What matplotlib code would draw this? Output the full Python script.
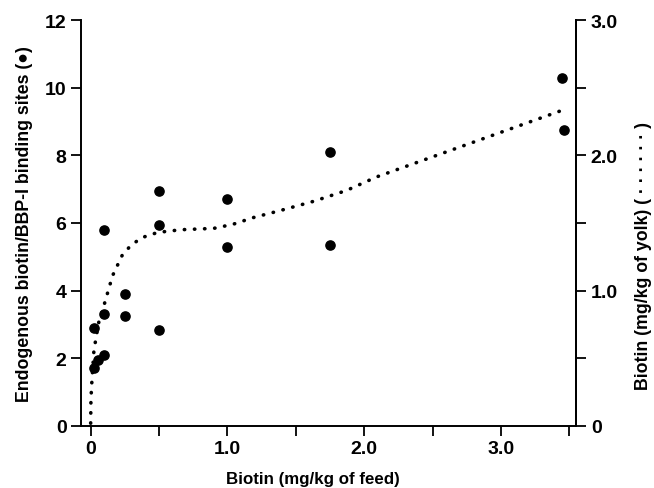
import numpy as np
import matplotlib.pyplot as plt
from matplotlib.ticker import MultipleLocator, FixedLocator, FixedFormatter

plt.rcParams["font.family"] = ["Liberation Sans", "DejaVu Sans"]

# binding sites per dose (left axis)
dose = [0.025, 0.025, 0.05, 0.1, 0.1, 0.1, 0.25, 0.25, 0.5, 0.5, 0.5,
        1.0, 1.0, 1.75, 1.75, 3.45, 3.46]
sites = [1.7, 2.9, 1.95, 2.1, 5.8, 3.3, 3.9, 3.25, 6.95, 5.95, 2.85,
         6.7, 5.3, 8.1, 5.35, 10.3, 8.75]

# yolk biotin curve (right axis)
curve_x = [0.0, 0.002, 0.01, 0.024, 0.046, 0.06, 0.097, 0.16, 0.23, 0.29,
           0.37, 0.49, 0.66, 0.90, 1.04, 1.19, 1.38, 1.63, 1.87, 2.09, 3.44]
curve_y = [0.02, 0.20, 0.35, 0.56, 0.69, 0.77, 0.89, 1.11, 1.26, 1.33,
           1.39, 1.43, 1.45, 1.46, 1.49, 1.54, 1.59, 1.66, 1.74, 1.84, 2.33]

fig = plt.figure(figsize=(6.54, 4.89), dpi=100)
ax = fig.add_axes([0.124, 0.127, 0.757, 0.83])
ax2 = ax.twinx()

ax.scatter(dose, sites, s=44, color="black", zorder=3)
ax2.plot(curve_x, curve_y, color="black", lw=2.6,
         linestyle=(0, (0.1, 2.7)), dash_capstyle="round")

ax.set_xlim(-0.07, 3.55)
ax.set_ylim(0, 12)
ax2.set_ylim(0, 3.0)

for a in (ax, ax2):
    a.spines["top"].set_visible(False)
    a.spines["left"].set_linewidth(1.4)
    a.spines["right"].set_linewidth(1.4)
    a.spines["bottom"].set_linewidth(1.4)
ax2.spines["left"].set_visible(False)
ax2.spines["bottom"].set_visible(False)

ax.xaxis.set_major_locator(FixedLocator([0, 1, 2, 3]))
ax.xaxis.set_major_formatter(FixedFormatter(["0", "1.0", "2.0", "3.0"]))
ax.xaxis.set_minor_locator(FixedLocator([0.5, 1.5, 2.5, 3.5]))
ax.yaxis.set_major_locator(MultipleLocator(2))
ax2.yaxis.set_major_locator(FixedLocator([0, 1, 2, 3]))
ax2.yaxis.set_major_formatter(FixedFormatter(["0", "1.0", "2.0", "3.0"]))
ax2.yaxis.set_minor_locator(MultipleLocator(0.5))

ax.tick_params(axis="both", which="both", direction="out", width=1.3, length=7, labelsize=14)
ax2.tick_params(axis="y", which="both", direction="out", width=1.3, length=7, labelsize=14)
for lab in ax.get_xticklabels() + ax.get_yticklabels() + ax2.get_yticklabels():
    lab.set_fontweight("bold")

ax.set_xlabel("Biotin (mg/kg of feed)", fontsize=12.2, fontweight="bold")
ax.xaxis.set_label_coords(0.469, -0.11)
ax.set_ylabel("Endogenous biotin/BBP-I binding sites (●)", fontsize=12.8, fontweight="bold")
ax.yaxis.set_label_coords(-0.097, 0.50)
ax2.set_ylabel("Biotin (mg/kg of yolk) ( · · · · · · )", fontsize=12.8, fontweight="bold")
ax2.yaxis.set_label_coords(1.118, 0.42)

fig.savefig("out.png", dpi=100)
